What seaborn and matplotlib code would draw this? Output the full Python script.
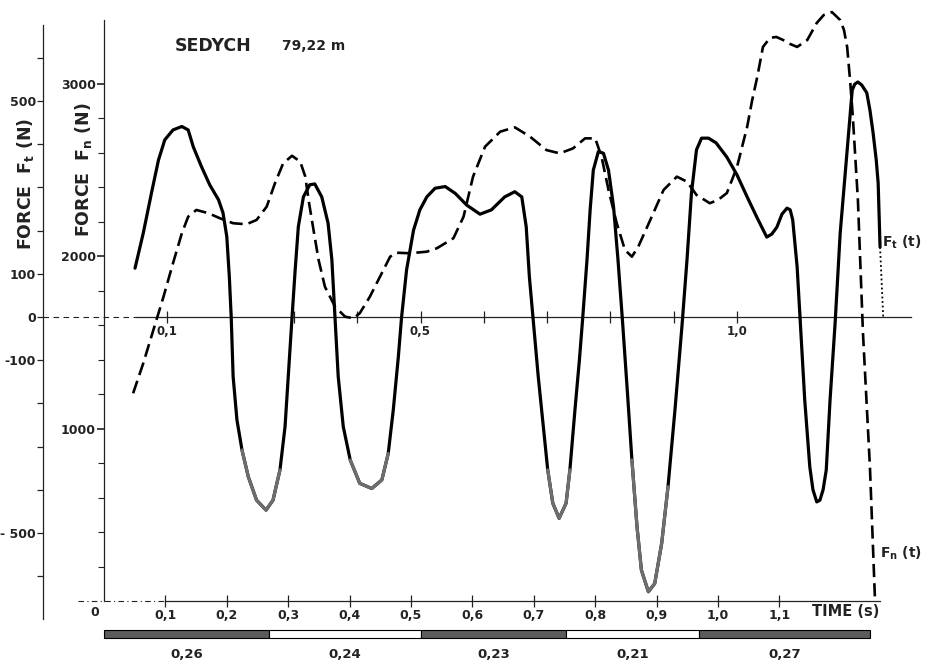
import numpy as np
import matplotlib
matplotlib.use("Agg")
import matplotlib.pyplot as plt
import seaborn as sns

# Tangential force Ft(t) in N (solid curve)
ft_time = [0.049, 0.062, 0.075, 0.086, 0.096, 0.109, 0.123, 0.133, 0.141, 0.154,
           0.167, 0.181, 0.188, 0.194, 0.198, 0.201, 0.204, 0.210, 0.218, 0.228,
           0.241, 0.256, 0.267, 0.278, 0.286, 0.291, 0.297, 0.302, 0.307, 0.315,
           0.325, 0.333, 0.344, 0.354, 0.360, 0.365, 0.370, 0.378, 0.389, 0.404,
           0.423, 0.439, 0.449, 0.457, 0.465, 0.470, 0.478, 0.489, 0.499, 0.510,
           0.523, 0.539, 0.555, 0.573, 0.594, 0.612, 0.633, 0.649, 0.660, 0.667,
           0.672, 0.678, 0.686, 0.694, 0.701, 0.709, 0.719, 0.730, 0.736, 0.744,
           0.751, 0.756, 0.763, 0.768, 0.773, 0.781, 0.789, 0.797, 0.805, 0.812,
           0.819, 0.827, 0.834, 0.842, 0.849, 0.860, 0.870, 0.881, 0.891, 0.902,
           0.913, 0.921, 0.928, 0.936, 0.944, 0.955, 0.967, 0.984, 1.000, 1.016,
           1.032, 1.047, 1.055, 1.063, 1.071, 1.079, 1.084, 1.088, 1.095, 1.100,
           1.107, 1.115, 1.120, 1.126, 1.131, 1.136, 1.141, 1.147, 1.155, 1.163,
           1.174, 1.182, 1.186, 1.191, 1.197, 1.205, 1.210, 1.215, 1.220, 1.223,
           1.226]
ft_force = [113, 194, 287, 363, 410, 433, 441, 433, 394, 348,
            306, 271, 241, 186, 93, -2, -138, -238, -308, -370,
            -424, -447, -424, -354, -254, -138, -2, 109, 209, 278,
            306, 308, 278, 217, 132, -2, -138, -254, -331, -385,
            -397, -377, -316, -215, -92, -2, 109, 201, 248, 278,
            298, 302, 286, 259, 238, 248, 278, 290, 278, 209,
            93, -7, -138, -254, -354, -431, -466, -431, -354, -215,
            -100, -7, 132, 248, 340, 383, 379, 340, 255, 132,
            -7, -177, -331, -485, -586, -636, -617, -524, -393, -215,
            -22, 132, 286, 387, 414, 414, 403, 370, 329, 278,
            229, 185, 192, 208, 238, 252, 248, 225, 116, -12,
            -192, -347, -400, -428, -424, -400, -354, -192, -14, 194,
            387, 525, 539, 544, 537, 519, 479, 426, 363, 310,
            162]
# dotted continuation of Ft down to zero
ft_tail_time = [1.226, 1.231]
ft_tail_force = [162, 0]

# Normal force Fn(t) in N (dashed curve)
fn_time = [0.046, 0.062, 0.078, 0.094, 0.109, 0.123, 0.133, 0.146, 0.165, 0.183,
           0.204, 0.225, 0.241, 0.257, 0.270, 0.283, 0.297, 0.310, 0.318, 0.324,
           0.331, 0.339, 0.349, 0.365, 0.381, 0.394, 0.404, 0.420, 0.436, 0.452,
           0.462, 0.483, 0.510, 0.526, 0.552, 0.568, 0.583, 0.602, 0.626, 0.649,
           0.673, 0.699, 0.720, 0.741, 0.760, 0.776, 0.786, 0.797, 0.810, 0.823,
           0.834, 0.844, 0.863, 0.884, 0.905, 0.921, 0.936, 0.957, 0.970, 0.984,
           1.000, 1.016, 1.024, 1.032, 1.041, 1.052, 1.062, 1.073, 1.084, 1.095,
           1.111, 1.126, 1.137, 1.150, 1.163, 1.169, 1.174, 1.179, 1.183, 1.191,
           1.199, 1.210, 1.218]
fn_force = [1204, 1378, 1571, 1764, 1958, 2132, 2228, 2267, 2248, 2219,
            2190, 2184, 2209, 2286, 2421, 2537, 2581, 2547, 2460, 2306,
            2151, 1977, 1822, 1706, 1648, 1639, 1668, 1764, 1880, 1996,
            2019, 2016, 2025, 2045, 2103, 2228, 2460, 2634, 2721, 2746,
            2692, 2614, 2595, 2624, 2682, 2682, 2576, 2383, 2190, 2035,
            1996, 2054, 2209, 2383, 2460, 2431, 2354, 2306, 2325, 2365,
            2516, 2748, 2904, 3038, 3212, 3264, 3270, 3252, 3229, 3212,
            3252, 3351, 3397, 3414, 3368, 3310, 3212, 3003, 2806, 2325,
            1554, 777, 6]

# turn durations (s) shown in the bar under the time axis
turn_labels = ["0,26", "0,24", "0,23", "0,21", "0,27"]
turn_durations = [0.26, 0.24, 0.23, 0.21, 0.27]
turn_colors = ["#5c5c5c", "white", "#5c5c5c", "white", "#5c5c5c"]

# axis ticks
ft_ticks = [-600, -500, -400, -300, -200, -100, 0, 100, 200, 300, 400, 500, 600]
ft_tick_labels = ["", "- 500", "", "", "", "-100", "0", "100", "", "", "", "500", ""]
fn_ticks = [1000, 2000, 3000]
fn_minor = [200, 400, 600, 800, 1200, 1400, 1600, 1800, 2200, 2400, 2600, 2800]
top_ticks = [0.1, 0.2, 0.3, 0.4, 0.5, 0.6, 0.7, 0.8, 0.9, 1.0, 1.1]
top_labels = ["0,1", "", "", "", "0,5", "", "", "", "", "1,0", ""]
bottom_ticks = [0.1, 0.2, 0.3, 0.4, 0.5, 0.6, 0.7, 0.8, 0.9, 1.0, 1.1]
bottom_labels = ["0,1", "0,2", "0,3", "0,4", "0,5", "0,6", "0,7", "0,8", "0,9", "1,0", "1,1"]

sns.set_theme(style="ticks")
plt.rcParams["font.family"] = ["DejaVu Sans"]
plt.rcParams["font.weight"] = "bold"
plt.rcParams["mathtext.default"] = "bf"
axc = "#222222"

W, H = 931, 668
fig = plt.figure(figsize=(W / 100, H / 100), dpi=100)
ax = fig.add_axes([0, 0, 915 / W, (H - 5) / H])
ax2 = ax.twinx()

fn_lim = (-388.4, 3455.1)
ft_lim = (-812.5, 722.2)
x_lim = (-104 / 633, 811 / 633)

# curves
sns.lineplot(x=fn_time, y=fn_force, ax=ax, color="black", linewidth=1.9,
             linestyle=(0, (5, 2.3)), sort=False, estimator=None,
             dash_joinstyle="round")
sns.lineplot(x=ft_time, y=ft_force, ax=ax2, color="black", linewidth=2.3,
             sort=False, estimator=None, solid_joinstyle="round")
# lighter print in the deep troughs
ft_arr = np.array(ft_force, dtype=float)
low = np.where((ft_arr < -300) & (np.array(ft_time) < 1.0), ft_arr, np.nan)
ax2.plot(ft_time, low, color="#6e6e6e", linewidth=2.3, solid_capstyle="round",
         solid_joinstyle="round")
ax2.plot(ft_tail_time, ft_tail_force, color="black", linewidth=1.3, linestyle=(0, (1, 1.5)))

# turn bar
lefts = np.concatenate([[0], np.cumsum(turn_durations)[:-1]])
ax.barh(y=-191, width=turn_durations, left=lefts, height=50, color=turn_colors,
        edgecolor="black", linewidth=0.8, clip_on=False)
for l, d, lab in zip(lefts, turn_durations, turn_labels):
    ax.text(l + d / 2, -313, lab, ha="center", va="center", fontsize=9.5, color=axc)

ax.set_xlim(*x_lim)
ax.set_ylim(*fn_lim)
ax2.set_ylim(*ft_lim)

# Fn axis
for s in ["top", "right", "bottom"]:
    ax.spines[s].set_visible(False)
    ax2.spines[s].set_visible(False)
ax.spines["left"].set_position(("data", 0))
ax.spines["left"].set_bounds(0, 3368)
ax.spines["left"].set_color(axc)
ax.spines["left"].set_linewidth(0.9)
ax.tick_params(axis="x", bottom=False, labelbottom=False)
ax.set_yticks(fn_ticks, [str(v) for v in fn_ticks])
ax.set_yticks(fn_minor, minor=True)
ax.tick_params(axis="y", which="major", length=5, width=1.2, pad=1, labelsize=9, colors=axc)
ax.tick_params(axis="y", which="minor", length=4, width=0.8, color=axc)
ax.set_xlabel("")
ax.set_ylabel("")

# Ft axis
ax2.yaxis.tick_left()
ax2.spines["left"].set_position(("axes", 43 / 915))
ax2.spines["left"].set_bounds(-700, 676)
ax2.spines["left"].set_color(axc)
ax2.spines["left"].set_linewidth(0.9)
ax2.set_yticks(ft_ticks, ft_tick_labels)
ax2.tick_params(axis="y", length=4, width=0.9, pad=1, labelsize=9, colors=axc)
ax2.set_xlabel("")
ax2.set_ylabel("")

# time axis on Ft = 0
frac_ft0 = (0 - ft_lim[0]) / (ft_lim[1] - ft_lim[0])
sec_top = ax.secondary_xaxis(frac_ft0)
sec_top.set_alignment("bottom")
sec_top.set_xticks(top_ticks, top_labels)
sec_top.spines["bottom"].set_bounds(0.05, 1.275)
sec_top.spines["bottom"].set_color(axc)
sec_top.spines["bottom"].set_linewidth(0.9)
sec_top.tick_params(axis="x", direction="inout", length=8, width=0.9, pad=2,
                    labelsize=8.5, colors=axc)
ax2.hlines(0, -0.096, 0.05, colors=axc, linewidth=0.8, linestyles=(0, (5, 4)))

# lower time axis on Fn = 0 (printed with a slightly stretched scale)
frac_fn0 = (0 - fn_lim[0]) / (fn_lim[1] - fn_lim[0])
sec_bot = ax.secondary_xaxis(frac_fn0, functions=(lambda t: t * 1.031, lambda t: t / 1.031))
sec_bot.set_xticks(bottom_ticks, bottom_labels)
sec_bot.spines["bottom"].set_bounds(0.1, 1.264)
sec_bot.spines["bottom"].set_color(axc)
sec_bot.spines["bottom"].set_linewidth(0.9)
sec_bot.tick_params(axis="x", direction="inout", length=8, width=0.9, pad=2,
                    labelsize=9, colors=axc)
ax.hlines(0, -0.041, 0.094, colors=axc, linewidth=0.8, linestyles=(0, (5, 3, 1, 3)))

# texts
def ftxt(x, y, s, **kw):
    fig.text(x / W, 1 - y / H, s, color=axc, **kw)

ftxt(175, 46, "SEDYCH", fontsize=12.5, va="center")
ftxt(282, 46, "79,22 m", fontsize=10, va="center")
ftxt(25, 184, "FORCE  F$_t$ (N)", fontsize=12.5, rotation=90, ha="center", va="center")
ftxt(84, 170, "FORCE  F$_n$ (N)", fontsize=12.5, rotation=90, ha="center", va="center")
ftxt(882, 242, "F$_t$ (t)", fontsize=10, va="center")
ftxt(880, 553, "F$_n$ (t)", fontsize=10, va="center")
ftxt(812, 612, "TIME (s)", fontsize=10.5, va="center")
ftxt(95, 612, "0", fontsize=9, ha="center", va="center")

fig.savefig("out.png", dpi=100)
